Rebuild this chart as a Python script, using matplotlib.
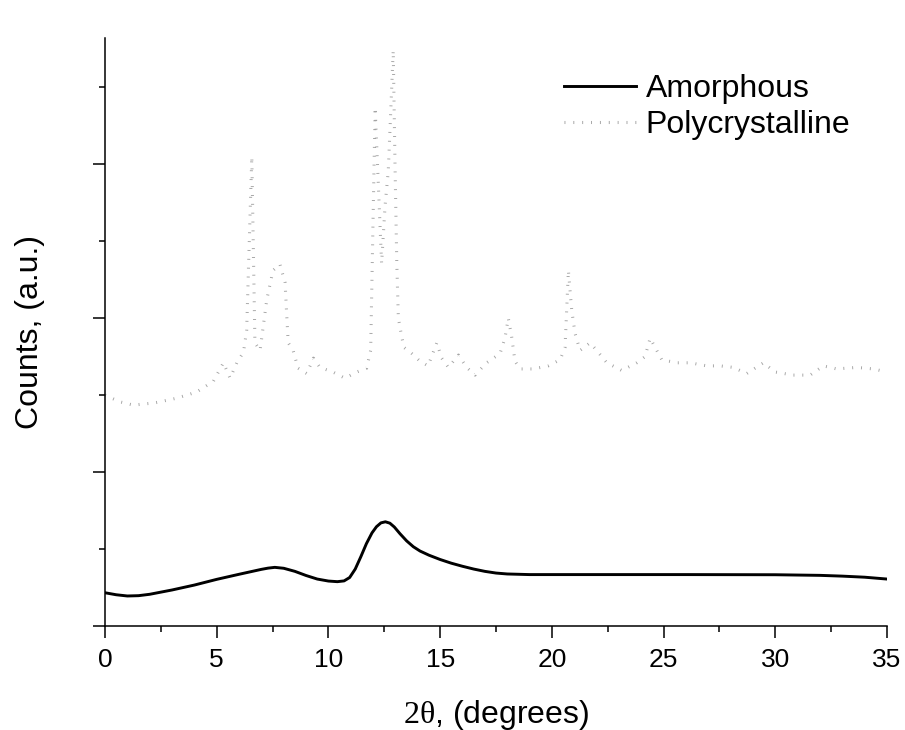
import matplotlib
matplotlib.use("Agg")
import matplotlib.pyplot as plt
from matplotlib.ticker import MultipleLocator

plt.rcParams['font.family'] = ['Liberation Sans', 'DejaVu Sans']
plt.rcParams['mathtext.fontset'] = 'custom'
plt.rcParams['mathtext.rm'] = 'Liberation Serif'

# amorphous pattern
amo_x = [0, 0.5, 1, 1.5, 2, 3, 4, 5, 6, 7, 7.3, 7.6, 8, 8.5, 9, 9.5, 10, 10.4, 10.7, 10.95,
         11.2, 11.45, 11.7, 11.95, 12.15, 12.35, 12.55, 12.75, 12.95, 13.2, 13.5, 13.8, 14.1,
         14.5, 15, 15.5, 16, 16.5, 17, 17.5, 18, 19, 22, 26, 30, 32, 33, 34, 35]
amo_y = [0.216, 0.203, 0.195, 0.197, 0.206, 0.234, 0.266, 0.303, 0.336, 0.368, 0.376, 0.381,
         0.375, 0.355, 0.328, 0.305, 0.292, 0.288, 0.293, 0.315, 0.37, 0.45, 0.535, 0.605,
         0.645, 0.67, 0.677, 0.668, 0.643, 0.6, 0.553, 0.515, 0.487, 0.46, 0.432, 0.408,
         0.388, 0.37, 0.355, 0.344, 0.338, 0.334, 0.334, 0.334, 0.333, 0.329, 0.324, 0.317,
         0.305]

# polycrystalline pattern
poly_x = [0, 0.3, 0.7, 1.27, 2.24, 3.21, 4.10, 4.85, 5.3, 5.6, 5.9, 6.2, 6.34, 6.57, 6.71,
          6.94, 7.24, 7.52, 7.83, 8.06, 8.13, 8.2, 8.42, 8.64, 9.03, 9.33, 9.62, 10.2, 10.74,
          11.27, 11.71, 11.89, 12.09, 12.38, 12.53, 12.68, 12.9, 12.98, 13.06, 13.13, 13.28,
          13.38, 13.73, 14.1, 14.46, 14.85, 15.07, 15.37, 15.82, 16.19, 16.56, 17.08, 17.68,
          17.9, 18.05, 18.2, 18.35, 18.58, 19.17, 19.84, 20.37, 20.59, 20.74, 20.89, 21.04,
          21.26, 21.71, 22.01, 22.46, 23.13, 23.8, 24.17, 24.4, 24.62, 24.92, 25.59, 26.19,
          26.93, 27.53, 28.12, 28.72, 29.47, 29.99, 30.81, 31.56, 32.15, 32.75, 33.65, 34.39, 35.0]
poly_y = [1.50, 1.48, 1.455, 1.435, 1.45, 1.48, 1.52, 1.59, 1.71, 1.61, 1.71, 1.78, 1.92, 3.05,
          1.84, 1.79, 2.12, 2.31, 2.35, 2.23, 2.03, 1.84, 1.79, 1.675, 1.64, 1.74, 1.68, 1.65,
          1.61, 1.65, 1.675, 1.79, 3.37, 2.355, 2.72, 2.96, 3.74, 3.0, 2.355, 2.0, 1.88, 1.81,
          1.77, 1.72, 1.69, 1.84, 1.74, 1.68, 1.76, 1.68, 1.63, 1.71, 1.77, 1.87, 2.0, 1.88,
          1.72, 1.67, 1.67, 1.69, 1.73, 1.81, 2.31, 2.05, 1.90, 1.79, 1.84, 1.79, 1.71, 1.66,
          1.71, 1.75, 1.87, 1.81, 1.73, 1.71, 1.71, 1.69, 1.69, 1.68, 1.64, 1.71, 1.65, 1.63,
          1.63, 1.69, 1.67, 1.68, 1.67, 1.65]

fig = plt.figure(figsize=(9.05, 7.3), dpi=100)
ax = fig.add_axes([105/905, 1-626/730, 782/905, 588/730])

ax.plot(amo_x, amo_y, color='k', lw=2.1, label='Amorphous')
ax.plot(poly_x, poly_y, color='#a3a3a3', lw=2.2, linestyle=(0, (0.3, 2.6)),
        label='Polycrystalline')

ax.set_xlim(0, 35)
ax.set_ylim(0, 3.82)
ax.spines['top'].set_visible(False)
ax.spines['right'].set_visible(False)
for s in ['left', 'bottom']:
    ax.spines[s].set_linewidth(1.1)

ax.xaxis.set_major_locator(MultipleLocator(5))
ax.xaxis.set_minor_locator(MultipleLocator(2.5))
ax.yaxis.set_major_locator(MultipleLocator(1))
ax.yaxis.set_minor_locator(MultipleLocator(0.5))
ax.tick_params(which='major', direction='out', length=8.5, width=1.1, labelsize=19, pad=7)
ax.tick_params(which='minor', direction='out', length=4.5, width=1.1)
ax.tick_params(axis='y', labelleft=False)

ax.set_xlabel(r'$\mathrm{2\theta}$, (degrees)', fontsize=23)
ax.xaxis.set_label_coords(0.5, -0.122)
ax.xaxis.label.set_verticalalignment('top')
ax.set_ylabel('Counts, (a.u.)', fontsize=23)
ax.yaxis.set_label_coords(-0.077, 0.5)

ax.legend(loc='upper left', bbox_to_anchor=(564/905, 1-74/730), bbox_transform=fig.transFigure,
          frameon=False, fontsize=23, handlelength=2.25, handletextpad=0.3,
          labelspacing=0.2, borderpad=0, borderaxespad=0)

fig.savefig('out.png', dpi=100)
